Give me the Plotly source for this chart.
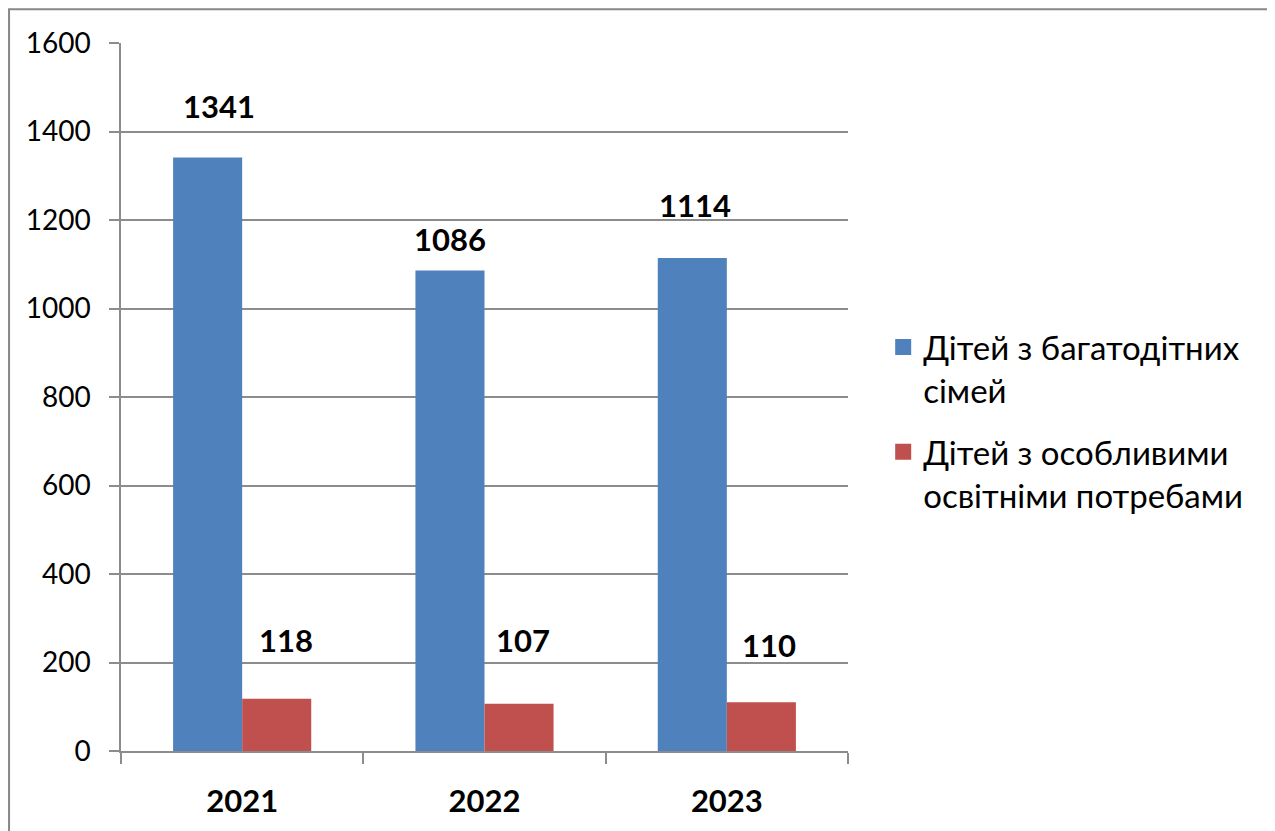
import plotly.graph_objects as go

years = ["2021", "2022", "2023"]
series_names = ["Дітей з багатодітних<br>сімей", "Дітей з особливими<br>освітніми потребами"]
large_families = [1341, 1086, 1114]
special_needs = [118, 107, 110]
y_ticks = [0, 200, 400, 600, 800, 1000, 1200, 1400, 1600]

colors = ["#4F81BD", "#C0504D"]
# label offsets in pixels relative to bar centre / bar top (style): (xshift, yshift)
label_offsets = [
    [(11, 52), (0, 31), (3, 53)],
    [(9, 59), (4, 64), (8, 57)],
]
bar_half = 34.5
FONT = "Lato"

fig = go.Figure()
for i, vals in enumerate([large_families, special_needs]):
    fig.add_trace(go.Bar(x=years, y=vals, marker=dict(color=colors[i], line=dict(width=0)),
                         showlegend=False, name=series_names[i]))
for i in range(2):
    fig.add_trace(go.Scatter(x=[years[0]], y=[None], mode="markers",
                             marker=dict(symbol="square", size=16, color=colors[i]),
                             name=series_names[i], legendgroup=str(i)))

annotations = []
for i, vals in enumerate([large_families, special_needs]):
    sign = -1 if i == 0 else 1
    for j, v in enumerate(vals):
        dx, dy = label_offsets[i][j]
        annotations.append(dict(x=j, y=v, xref="x", yref="y", text=f"<b>{v}</b>",
                                showarrow=False, xshift=sign * bar_half + dx, yshift=dy,
                                font=dict(family=FONT, size=31, color="black")))

fig.update_layout(
    width=1267, height=823,
    margin=dict(l=113, r=427, t=35, b=80, autoexpand=False),
    paper_bgcolor="white", plot_bgcolor="white",
    barmode="group", bargap=0.43, bargroupgap=0,
    font=dict(family=FONT, size=28, color="black"),
    annotations=annotations,
    legend=dict(x=1.0484, y=0.610, xanchor="left", yanchor="top", valign="top",
                font=dict(family=FONT, size=33, color="black"), tracegroupgap=16,
                bgcolor="rgba(0,0,0,0)"),
    shapes=[dict(type="rect", xref="paper", yref="paper", x0=-0.154, x1=1.7, y0=-0.2, y1=1.0475,
                 line=dict(color="#878787", width=2), layer="below")],
)
fig.update_yaxes(range=[0, 1600], tickvals=y_ticks, showgrid=True, gridcolor="#8C8C8C", gridwidth=1.5,
                 showline=True, linecolor="#8C8C8C", linewidth=1.5, ticks="outside", ticklen=10,
                 tickcolor="#8C8C8C", tickwidth=1.5, ticklabelstandoff=13, zeroline=False,
                 automargin=False, tickfont=dict(family=FONT, size=28, color="black"))
fig.update_xaxes(type="category", range=[-0.5, len(years) - 0.5], showline=True, linecolor="#8C8C8C",
                 linewidth=1.5, ticks="outside", ticklen=11, tickson="boundaries", tickcolor="#8C8C8C",
                 tickwidth=1.5, ticklabelstandoff=22, automargin=False, tickangle=0,
                 tickfont=dict(family=FONT, size=31, color="black", weight="bold"))

fig.write_html("out.html")
